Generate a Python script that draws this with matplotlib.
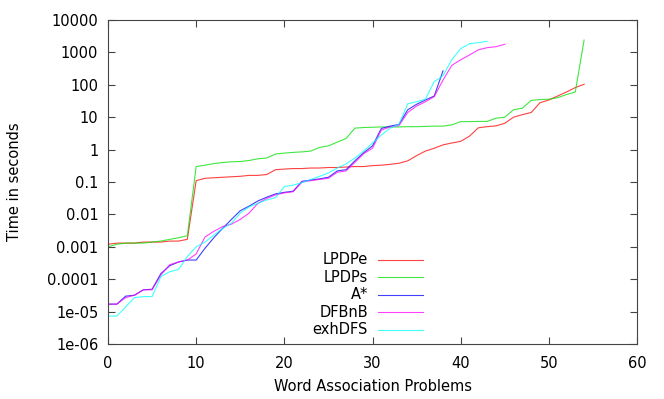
import matplotlib
matplotlib.use("Agg")
import matplotlib.pyplot as plt
from matplotlib.lines import Line2D
from matplotlib.ticker import FixedLocator, FixedFormatter, NullLocator

lpdpe = [0.0012, 0.0013, 0.0013, 0.0013, 0.0014, 0.0014, 0.0014, 0.0015, 0.0015, 0.0017,
         0.11, 0.13, 0.135, 0.14, 0.145, 0.15, 0.16, 0.16, 0.17, 0.24,
         0.25, 0.26, 0.26, 0.27, 0.27, 0.28, 0.28, 0.29, 0.3, 0.3,
         0.32, 0.33, 0.35, 0.38, 0.45, 0.65, 0.9, 1.1, 1.4, 1.6,
         1.8, 2.6, 4.7, 5.1, 5.4, 6.5, 10, 12, 14, 28,
         34, 45, 60, 82, 104]
lpdps = [0.001, 0.0012, 0.0013, 0.0013, 0.0013, 0.0014, 0.0015, 0.0017, 0.0019, 0.0022,
         0.3, 0.33, 0.37, 0.4, 0.42, 0.43, 0.46, 0.52, 0.55, 0.73,
         0.78, 0.82, 0.85, 0.9, 1.17, 1.3, 1.7, 2.2, 4.6, 4.8,
         4.9, 5.0, 5.0, 5.0, 5.1, 5.1, 5.2, 5.3, 5.3, 5.8,
         7.3, 7.3, 7.4, 7.4, 9.3, 10, 17, 19, 33, 35,
         36, 40, 50, 60, 2400]
astar = [1.7e-5, 1.7e-5, 3.0e-5, 3.2e-5, 4.7e-5, 4.9e-5, 1.5e-4, 2.6e-4, 3.4e-4, 3.9e-4,
         3.9e-4, 9e-4, 1.9e-3, 3.7e-3, 7e-3, 0.013, 0.018, 0.026, 0.034, 0.043,
         0.048, 0.052, 0.105, 0.115, 0.125, 0.14, 0.22, 0.24, 0.45, 0.8,
         1.3, 4.5, 5.3, 6, 17, 25, 34, 45, 270]
dfbnb = [1.7e-5, 1.7e-5, 2.7e-5, 3.2e-5, 4.7e-5, 4.7e-5, 1.35e-4, 2.8e-4, 3.4e-4, 3.9e-4,
         6e-4, 2e-3, 3e-3, 4.2e-3, 5e-3, 7e-3, 0.011, 0.022, 0.031, 0.04,
         0.046, 0.05, 0.1, 0.11, 0.12, 0.13, 0.2, 0.22, 0.4, 0.75,
         1.1, 4, 5, 5.5, 14, 22, 30, 43, 140, 400,
         590, 830, 1200, 1400, 1500, 1780]
exhdfs = [7.3e-6, 7.3e-6, 1.4e-5, 2.7e-5, 2.9e-5, 2.9e-5, 1.2e-4, 1.7e-4, 2e-4, 5e-4,
          1e-3, 1.4e-3, 2.3e-3, 3.7e-3, 5.3e-3, 0.011, 0.017, 0.022, 0.028, 0.033,
          0.072, 0.08, 0.095, 0.12, 0.15, 0.19, 0.27, 0.36, 0.55, 0.9,
          1.6, 2.8, 4.6, 6, 26, 30, 36, 125, 190, 600,
          1300, 1850, 2000, 2200]

names = ["LPDPe", "LPDPs", "A*", "DFBnB", "exhDFS"]
series = [lpdpe, lpdps, astar, dfbnb, exhdfs]
colors = ["#ff0000", "#00e000", "#0000ff", "#ff00ff", "#00ffff"]

xticks = [0, 10, 20, 30, 40, 50, 60]
yticks = [1e-6, 1e-5, 1e-4, 1e-3, 1e-2, 1e-1, 1, 10, 100, 1000, 10000]
ylabels = ["1e-06", "1e-05", "0.0001", "0.001", "0.01", "0.1", "1", "10", "100", "1000", "10000"]

FS = 10.5
plt.rcParams['font.family'] = ['DejaVu Sans']
fig = plt.figure(figsize=(6.64, 3.99), dpi=100)
ax = fig.add_axes([108/664, 1-344/399, (637-108)/664, (344-20)/399])

for vals, c in zip(series, colors):
    ax.plot(range(len(vals)), vals, color=c, lw=0.8, alpha=0.75)

ax.set_yscale('log')
ax.set_xlim(0, 60)
ax.set_ylim(1e-6, 1e4)
ax.xaxis.set_major_locator(FixedLocator(xticks))
ax.yaxis.set_major_locator(FixedLocator(yticks))
ax.yaxis.set_major_formatter(FixedFormatter(ylabels))
ax.yaxis.set_minor_locator(NullLocator())
ax.tick_params(axis='both', which='major', direction='in', length=5, width=0.8,
               top=True, right=True, labelsize=FS, color='#444444')
ax.tick_params(axis='x', pad=9)
ax.tick_params(axis='y', pad=7)
for s in ax.spines.values():
    s.set_color('#444444')
    s.set_linewidth(0.8)

ax.set_xlabel("Word Association Problems", fontsize=FS, va='center')
ax.xaxis.set_label_coords(0.5, (344 - 386.7) / 324)
ax.set_ylabel("Time in seconds", fontsize=FS, va='center')
ax.yaxis.set_label_coords((15 - 108) / 529, 0.5)

# legend (gnuplot style: right-aligned text then sample line)
for k, (n, c) in enumerate(zip(names, colors)):
    yp = 1 - (260 + k * 17.4) / 399
    fig.text(368/664, yp, n, ha='right', va='center', fontsize=FS)
    fig.add_artist(Line2D([378/664, 423/664], [yp, yp], color=c, lw=0.8, alpha=0.75))

fig.savefig("out.png", dpi=100)
